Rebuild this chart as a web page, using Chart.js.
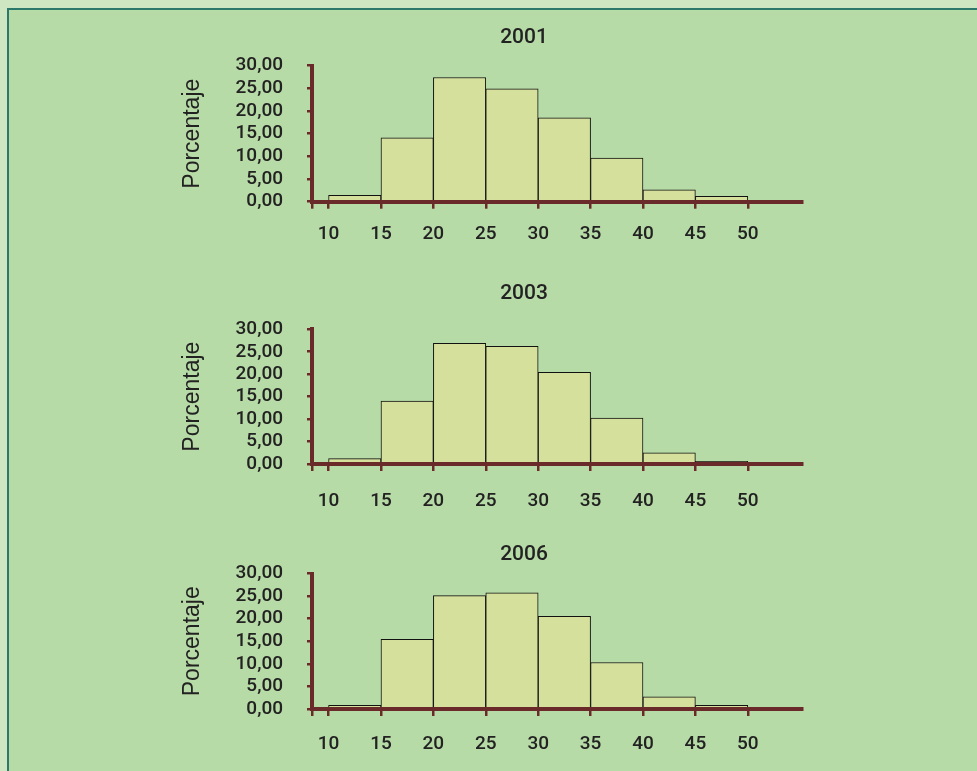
<!DOCTYPE html>
<html lang="es">
<head>
<meta charset="utf-8">
<title>Histogramas 2001 / 2003 / 2006</title>
<script src="https://cdn.jsdelivr.net/npm/chart.js@4.4.1/dist/chart.umd.min.js"></script>
<style>
  html, body { margin:0; padding:0; }
  body { width:977px; height:771px; background:#cfe6c2; position:relative; overflow:hidden; }
  .frame { position:absolute; left:7px; top:8px; right:-20px; bottom:-20px;
           border-top:2px solid #2c786a; border-left:2px solid #2c786a; background:#b7dba6; }
  .box { position:absolute; left:0; width:977px; }
</style>
</head>
<body>
<div class="frame"></div>
<div class="box" id="b0"><canvas id="c0"></canvas></div>
<div class="box" id="b1"><canvas id="c1"></canvas></div>
<div class="box" id="b2"><canvas id="c2"></canvas></div>

<script>
// ==== データ ====
const YEARS    = ['2001', '2003', '2006'];
const BIN_MID  = [12.5, 17.5, 22.5, 27.5, 32.5, 37.5, 42.5, 47.5];   // 10-15, 15-20, ... 45-50
const PCT_2001 = [1.4, 14.1, 27.4, 24.9, 18.5, 9.6, 2.6, 1.2];
const PCT_2003 = [1.2, 14.0, 26.9, 26.2, 20.4, 10.2, 2.5, 0.6];
const PCT_2006 = [0.8, 15.4, 25.1, 25.7, 20.5, 10.3, 2.7, 0.8];
const X_TICKS  = [10, 15, 20, 25, 30, 35, 40, 45, 50];
const Y_MIN = 0, Y_MAX = 30, Y_STEP = 5;
const X_MIN = 8.42, X_MAX = 55.2;
const Y_TITLE = 'Porcentaje';

// ==== レイアウト（チャートごと） ====
const BOX_TOP   = [0, 255, 515];
const BOX_H     = [270, 270, 256];
const AREA_TOP  = [65.7, 74.3, 58.5];   // canvas内のプロット上端
const AREA_BOT  = [201.7, 209, 194];    // canvas内のゼロ線
const XLAB_PAD  = [14.5, 19, 17];
const TITLE_Y   = [38, 38.3, 40];
const TITLE_X   = 524;
const XAXIS_H   = 60;
const AXIS_LEFT = 312, AXIS_RIGHT = 802.3, YTITLE_X = 192.5;

const AXIS_COL = '#6a2a2a';
const TXT_COL  = '#222222';
const BAR_FILL = '#d4e09c';
const NARROW   = 'Roboto, "DejaVu Sans Condensed", sans-serif';
const SANS     = '"Liberation Sans", Arial, sans-serif';

const SERIES = [PCT_2001, PCT_2003, PCT_2006];

// 年タイトル（プロット中心とずれているので自前で描く）
const yearTitle = {
  id: 'yearTitle',
  afterDraw(c, args, opts) {
    const ctx = c.ctx;
    ctx.save();
    ctx.font = `500 21px ${NARROW}`;
    ctx.fillStyle = TXT_COL;
    ctx.textAlign = 'center';
    ctx.textBaseline = 'middle';
    ctx.fillText(opts.text, TITLE_X, opts.y);
    ctx.restore();
  }
};

const fmtPct = (v) => v.toFixed(2).replace('.', ',');

function makeChart(i) {
  const box = document.getElementById('b' + i);
  box.style.top = BOX_TOP[i] + 'px';
  box.style.height = BOX_H[i] + 'px';

  const yTitleLH = 23 * 1.2;
  const padLeft = YTITLE_X - yTitleLH / 2;

  return new Chart(document.getElementById('c' + i), {
    type: 'bar',
    data: {
      datasets: [{
        label: YEARS[i],
        data: BIN_MID.map((x, k) => ({ x, y: SERIES[i][k] })),
        backgroundColor: BAR_FILL,
        borderColor: '#111',
        borderWidth: 1,
        barThickness: 'flex',   // 棒どうしを隙間なく並べる
        barPercentage: 1,
        categoryPercentage: 1
      }]
    },
    options: {
      responsive: true,
      maintainAspectRatio: false,
      animation: false,
      events: [],
      layout: { padding: {
        left: padLeft,
        right: 977 - AXIS_RIGHT,
        top: AREA_TOP[i],
        bottom: BOX_H[i] - AREA_BOT[i] - XAXIS_H
      } },
      scales: {
        x: {
          type: 'linear',
          min: X_MIN, max: X_MAX,
          offset: false,
          afterBuildTicks: (s) => { s.ticks = [X_MIN, ...X_TICKS].map(v => ({ value: v })); },
          afterFit: (s) => { s.height = XAXIS_H; },
          grid: { display: true, drawOnChartArea: false, drawTicks: true, tickLength: 7,
                  color: AXIS_COL, lineWidth: 2.5, offset: false },
          border: { display: true, color: AXIS_COL, width: 4, z: 1 },
          ticks: { autoSkip: false, maxRotation: 0, padding: XLAB_PAD[i], color: TXT_COL,
                   font: { family: NARROW, size: 19, weight: '500' },
                   callback: (v) => X_TICKS.includes(v) ? String(v) : '' }
        },
        y: {
          min: Y_MIN, max: Y_MAX,
          afterFit: (s) => { s.width = AXIS_LEFT - padLeft; },
          grid: { display: true, drawOnChartArea: false, drawTicks: true, tickLength: 5,
                  color: AXIS_COL, lineWidth: 2.5 },
          border: { display: true, color: AXIS_COL, width: 4, z: 1 },
          ticks: { stepSize: Y_STEP, autoSkip: false, padding: 24, color: TXT_COL,
                   font: { family: NARROW, size: 19, weight: '500' },
                   callback: (v) => fmtPct(v) },
          title: { display: true, text: Y_TITLE, color: TXT_COL, padding: 0,
                   font: { family: SANS, size: 23 } }
        }
      },
      plugins: {
        legend: { display: false },
        tooltip: { enabled: false },
        title: { display: false },
        yearTitle: { text: YEARS[i], y: TITLE_Y[i] }
      }
    },
    plugins: [yearTitle]
  });
}

YEARS.forEach((_, i) => makeChart(i));
</script>
</body>
</html>
